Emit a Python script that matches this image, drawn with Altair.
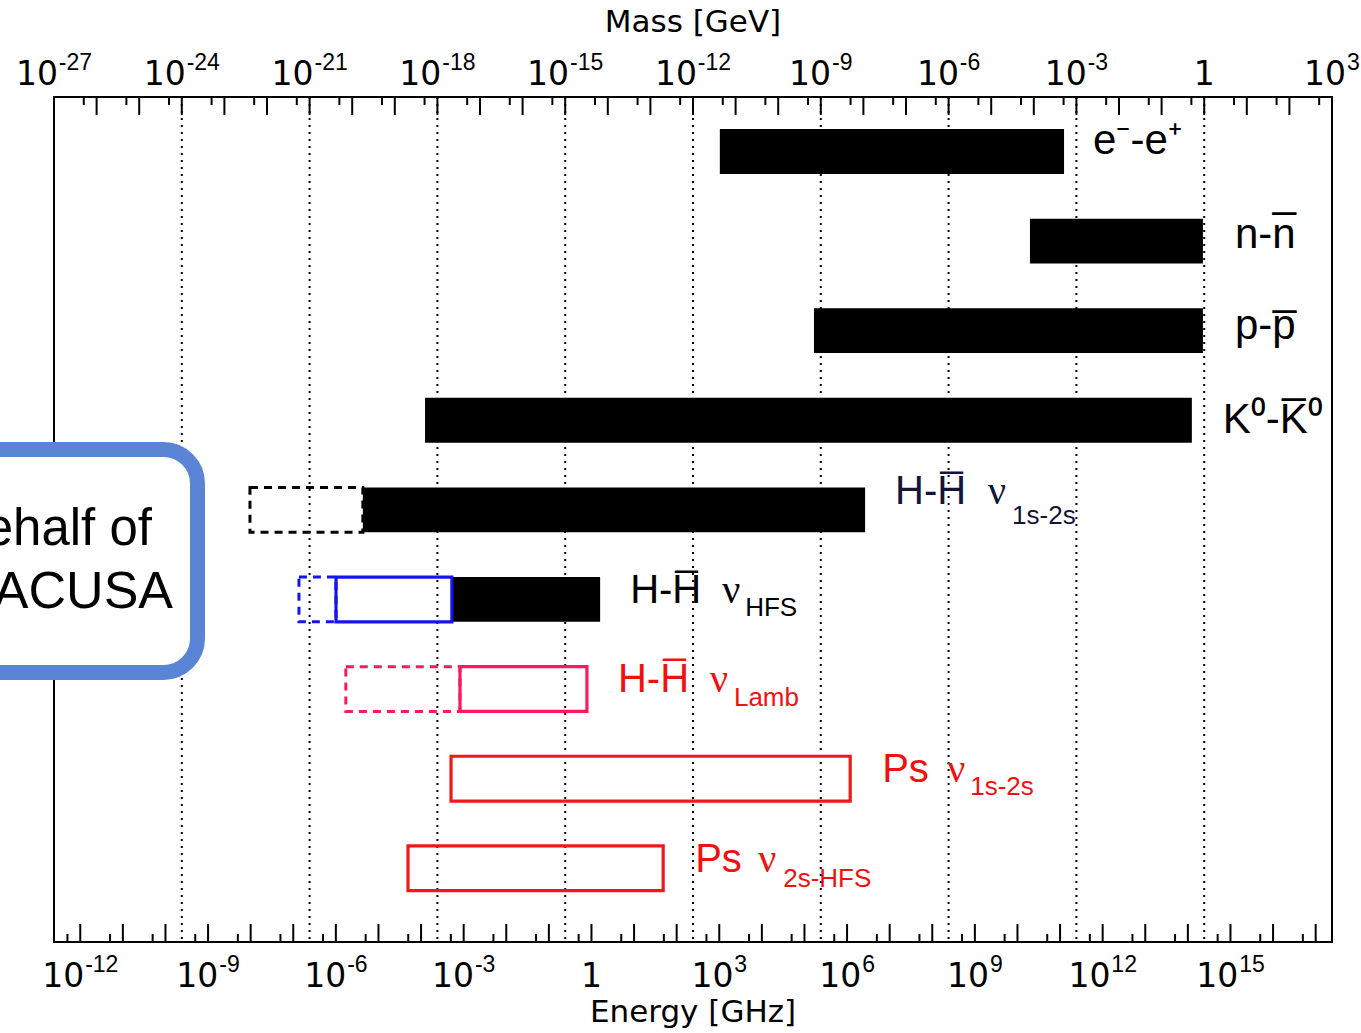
import math
import altair as alt
import pandas as pd

# ---------------- data (log10 of mass in GeV) ----------------
ROW_NAMES = ["e-e+", "n-nbar", "p-pbar", "K0-K0bar", "H-Hbar 1s-2s",
             "H-Hbar HFS", "H-Hbar Lamb", "Ps 1s-2s", "Ps 2s-HFS"]

FILLED_ROW = [1, 2, 3, 4, 5, 6]
FILLED_LO = [-11.37, -4.09, -9.16, -18.29, -19.75, -17.66]
FILLED_HI = [-3.29, -0.03, -0.03, -0.29, -7.96, -14.18]

SOLID_ROW = [6, 7, 8, 9]
SOLID_LO = [-20.38, -17.47, -17.68, -18.69]
SOLID_HI = [-17.66, -14.49, -8.31, -12.70]
SOLID_COLOR = ["#1414ee", "#ff1a5c", "#f01818", "#f01818"]

DASH_ROW = [5, 6, 7]
DASH_LO = [-22.40, -21.25, -20.15]
DASH_HI = [-19.75, -20.38, -17.47]
DASH_COLOR = ["#000000", "#1414ee", "#ff1a5c"]

LABEL_MAIN = ["e\u207b-e\u207a", "n-n\u0305", "p-p\u0305", "K\u2070-K\u0305\u2070",
              "H-H\u0305", "H-H\u0305", "H-H\u0305", "Ps", "Ps"]
LABEL_SUB = ["", "", "", "", "1s-2s", "HFS", "Lamb", "1s-2s", "2s-HFS"]
LABEL_COLOR = ["#000000", "#000000", "#000000", "#000000", "#14143a",
               "#000000", "#f21010", "#f21010", "#f21010"]

MASS_LABEL_EXP = [-27, -24, -21, -18, -15, -12, -9, -6, -3, 0, 3]
ENERGY_LABEL_EXP = [-12, -9, -6, -3, 0, 3, 6, 9, 12, 15]
GRID_EXP = [-24, -21, -18, -15, -12, -9, -6, -3, 0]
GHZ_IN_GEV_LOG = math.log10(4.135667e-15)  # 1 GHz photon energy in GeV

# ---------------- layout / style ----------------
PLOT_W, PLOT_H = 1278, 845
X_DOMAIN = [-27, 3]
Y_DOMAIN = [0.392, 9.823]
PX_PER_DEC = PLOT_W / (X_DOMAIN[1] - X_DOMAIN[0])
PX_PER_ROW = PLOT_H / (Y_DOMAIN[1] - Y_DOMAIN[0])
HALF_BAR = 0.25

MAIN_DX = [29, 32, 32, 31, 30, 30, 31, 32, 32]
MAIN_DY = [2.5, 7, 8, 13, -5.5, 4, 2.5, 3.5, 3.5]
MAIN_FS = [42, 42, 42, 42, 40, 40, 40, 40, 40]
NU_DX = [0, 0, 0, 0, 123, 122, 123, 97, 95]
SUB_DX = [0, 0, 0, 0, 147, 145, 147, 120, 120]
SUB_DY = [0, 0, 0, 0, 14.5, 17, 16.5, 16.5, 18.5]

xs = alt.Scale(domain=X_DOMAIN, nice=False, zero=False)
ys = alt.Scale(domain=Y_DOMAIN, nice=False, zero=False, reverse=True)


def X(f):
    return alt.X(f"{f}:Q", scale=xs, axis=None)


def Y(f):
    return alt.Y(f"{f}:Q", scale=ys, axis=None)


# ---------------- frames ----------------
grid_df = pd.DataFrame({"x": GRID_EXP})

top_long = list(range(-26, 3))
top_short = [n - math.log10(2) for n in range(-26, 4)]
e_lo = X_DOMAIN[0] - GHZ_IN_GEV_LOG
e_hi = X_DOMAIN[1] - GHZ_IN_GEV_LOG
bot_long = [n + GHZ_IN_GEV_LOG for n in range(math.ceil(e_lo), math.floor(e_hi) + 1)]
bot_short = [n - math.log10(2) + GHZ_IN_GEV_LOG for n in range(math.ceil(e_lo), math.floor(e_hi) + 2)
             if e_lo < n - math.log10(2) < e_hi]

filled_df = pd.DataFrame({"lo": FILLED_LO, "hi": FILLED_HI,
                          "y0": [r - HALF_BAR for r in FILLED_ROW],
                          "y1": [r + HALF_BAR for r in FILLED_ROW]})
solid_df = pd.DataFrame({"lo": SOLID_LO, "hi": SOLID_HI, "col": SOLID_COLOR,
                         "y0": [r - HALF_BAR for r in SOLID_ROW],
                         "y1": [r + HALF_BAR for r in SOLID_ROW]})
dash_df = pd.DataFrame({"lo": DASH_LO, "hi": DASH_HI, "col": DASH_COLOR,
                        "y0": [r - HALF_BAR for r in DASH_ROW],
                        "y1": [r + HALF_BAR for r in DASH_ROW]})

# row end = rightmost edge of any band in that row
row_end = {}
for rows, his in [(FILLED_ROW, FILLED_HI), (SOLID_ROW, SOLID_HI), (DASH_ROW, DASH_HI)]:
    for r, h in zip(rows, his):
        row_end[r] = max(row_end.get(r, -99), h)

main_rows, nu_rows, sub_rows = [], [], []
for i in range(len(ROW_NAMES)):
    r = i + 1
    end = row_end[r]
    main_rows.append({"x": end + MAIN_DX[i] / PX_PER_DEC, "y": r + MAIN_DY[i] / PX_PER_ROW,
                      "t": LABEL_MAIN[i], "col": LABEL_COLOR[i], "fs": MAIN_FS[i]})
    if LABEL_SUB[i]:
        nu_rows.append({"x": end + NU_DX[i] / PX_PER_DEC, "y": r + MAIN_DY[i] / PX_PER_ROW,
                        "t": "\u03bd", "col": LABEL_COLOR[i]})
        sub_rows.append({"x": end + SUB_DX[i] / PX_PER_DEC, "y": r + SUB_DY[i] / PX_PER_ROW,
                         "t": LABEL_SUB[i], "col": LABEL_COLOR[i]})
main_df = pd.DataFrame(main_rows)
nu_df = pd.DataFrame(nu_rows)
sub_df = pd.DataFrame(sub_rows)

BASE_FS, EXP_FS = 33, 23


def w_base(s):
    return sum(0.636 if c.isdigit() else 0.361 for c in s) * BASE_FS


def w_exp(s):
    return sum(0.556 if c.isdigit() else 0.333 for c in s) * EXP_FS


def tick_labels(exps, shift):
    base_rows, exp_rows = [], []
    for e in exps:
        base = "1" if e == 0 else "10"
        ex = "" if e == 0 else str(e)
        wb = w_base(base)
        we = w_exp(ex) + (1 if ex else 0)
        x0 = e + shift - (wb + we) / 2 / PX_PER_DEC
        base_rows.append({"x": x0, "t": base})
        if ex:
            exp_rows.append({"x": x0 + (wb + 1) / PX_PER_DEC, "t": ex})
    return pd.DataFrame(base_rows), pd.DataFrame(exp_rows)


top_base, top_exp = tick_labels(MASS_LABEL_EXP, 0.0)
bot_base, bot_exp = tick_labels(ENERGY_LABEL_EXP, GHZ_IN_GEV_LOG)

layers = []
layers.append(alt.Chart(grid_df).mark_rule(color="black", strokeWidth=2, strokeDash=[2, 5])
              .encode(x=X("x"), y=alt.value(0), y2=alt.value(PLOT_H)))
for vals, ya, yb in [(top_long, 0, 18), (top_short, 0, 8),
                     (bot_long, PLOT_H - 18, PLOT_H), (bot_short, PLOT_H - 8, PLOT_H)]:
    layers.append(alt.Chart(pd.DataFrame({"x": vals})).mark_rule(color="black", strokeWidth=2)
                  .encode(x=X("x"), y=alt.value(ya), y2=alt.value(yb)))

layers.append(alt.Chart(filled_df).mark_rect(color="black")
              .encode(x=X("lo"), x2="hi:Q", y=Y("y0"), y2="y1:Q"))
layers.append(alt.Chart(dash_df).mark_rect(filled=False, strokeWidth=3, strokeDash=[8, 6])
              .encode(x=X("lo"), x2="hi:Q", y=Y("y0"), y2="y1:Q",
                      color=alt.Color("col:N", scale=None)))
layers.append(alt.Chart(solid_df).mark_rect(filled=False, strokeWidth=3.2)
              .encode(x=X("lo"), x2="hi:Q", y=Y("y0"), y2="y1:Q",
                      color=alt.Color("col:N", scale=None)))

layers.append(alt.Chart(main_df).mark_text(align="left", baseline="alphabetic", font="Liberation Sans")
              .encode(x=X("x"), y=Y("y"), text="t:N", color=alt.Color("col:N", scale=None),
                      size=alt.Size("fs:Q", scale=None)))
layers.append(alt.Chart(nu_df).mark_text(align="left", baseline="alphabetic", font="Liberation Serif",
                                         fontSize=40)
              .encode(x=X("x"), y=Y("y"), text="t:N", color=alt.Color("col:N", scale=None)))
layers.append(alt.Chart(sub_df).mark_text(align="left", baseline="alphabetic", font="Liberation Sans",
                                          fontSize=26)
              .encode(x=X("x"), y=Y("y"), text="t:N", color=alt.Color("col:N", scale=None)))

for df, yb, fs, font in [(top_base, -12, BASE_FS, "DejaVu Sans"), (top_exp, -27, EXP_FS, "Liberation Sans"),
                         (bot_base, 890, BASE_FS, "DejaVu Sans"), (bot_exp, 875, EXP_FS, "Liberation Sans")]:
    layers.append(alt.Chart(df).mark_text(align="left", baseline="alphabetic", font=font,
                                          fontSize=fs, color="black")
                  .encode(x=X("x"), y=alt.value(yb), text="t:N"))

one = pd.DataFrame({"a": [0]})
layers.append(alt.Chart(one).mark_text(text="Mass [GeV]", font="DejaVu Sans", fontSize=31,
                                       align="center", baseline="alphabetic", color="black")
              .encode(x=alt.value(PLOT_W / 2), y=alt.value(-65)))
layers.append(alt.Chart(one).mark_text(text="Energy [GHz]", font="DejaVu Sans", fontSize=31,
                                       align="center", baseline="alphabetic", color="black")
              .encode(x=alt.value(PLOT_W / 2), y=alt.value(925)))

# slide overlay box (partially off the left edge)
layers.append(alt.Chart(one).mark_rect(fill="white", stroke="#5a84d6", strokeWidth=15, cornerRadius=34)
              .encode(x=alt.value(-260), x2=alt.value(143.5), y=alt.value(352.5), y2=alt.value(575.5)))
layers.append(alt.Chart(one).mark_text(text="on behalf of", font="Liberation Sans", fontSize=51,
                                       align="right", baseline="alphabetic", color="black")
              .encode(x=alt.value(98), y=alt.value(448)))
layers.append(alt.Chart(one).mark_text(text="ASACUSA", font="Liberation Sans", fontSize=52,
                                       align="right", baseline="alphabetic", color="black")
              .encode(x=alt.value(119), y=alt.value(511)))

chart = alt.layer(*layers).properties(
    width=PLOT_W, height=PLOT_H,
    autosize=alt.AutoSizeParams(type="none"),
    padding={"left": 54, "top": 97, "right": 29, "bottom": 91},
    background="white",
).configure_view(stroke="black", strokeWidth=2)

chart.save("out.html", embed_options={"renderer": "svg", "actions": False})
